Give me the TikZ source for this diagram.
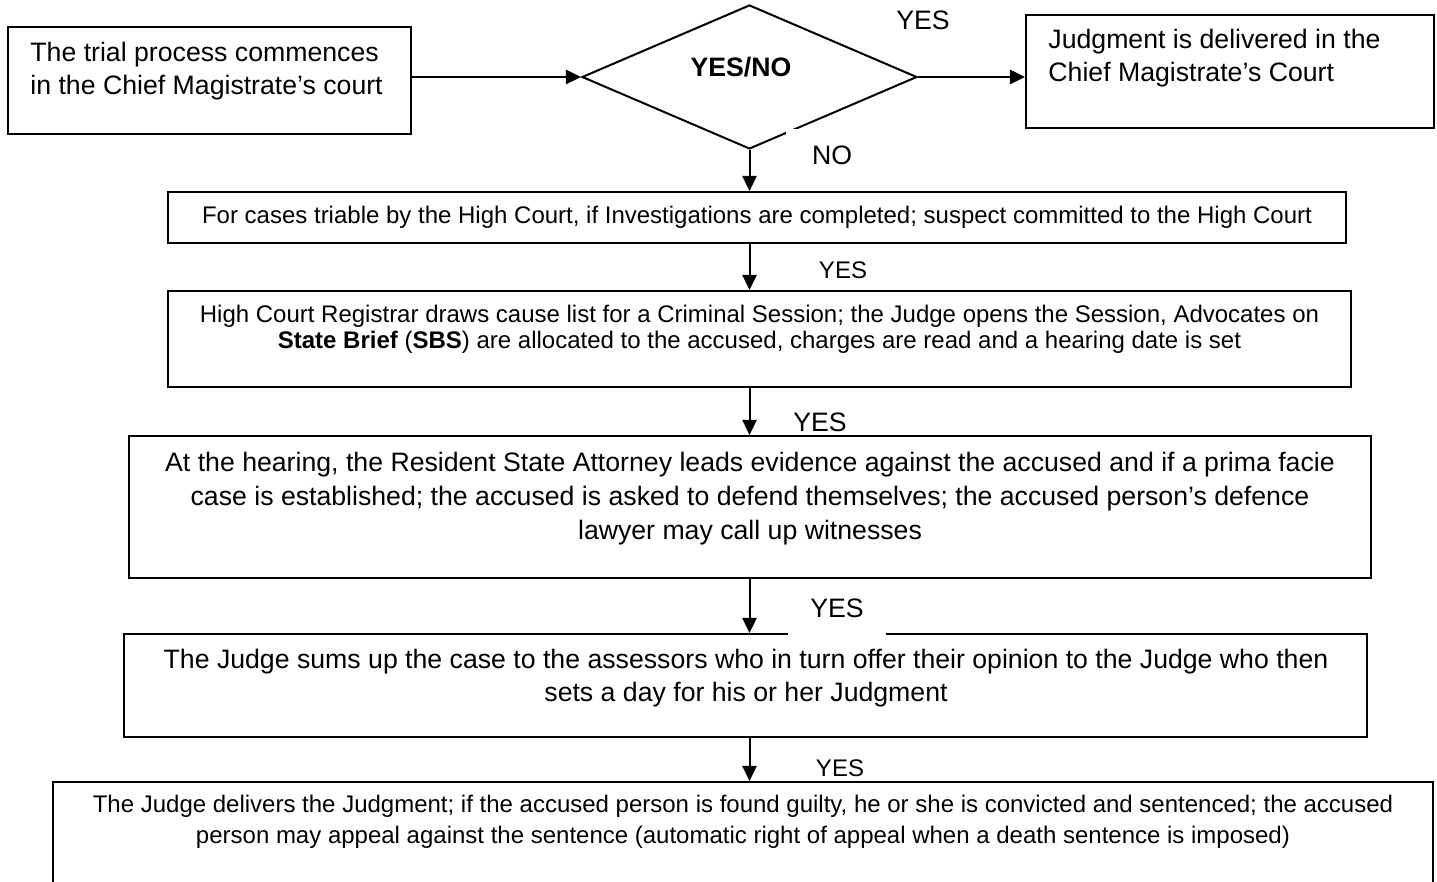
\documentclass[tikz,border=0pt]{standalone}
\usepackage{fontspec}
\setmainfont{Liberation Sans}
\usepackage{tikz}
\usetikzlibrary{positioning, shapes.geometric, arrows.meta}

\newcommand{\bigtxt}{\fontsize{12}{14.85}\selectfont}
\newcommand{\smalltxt}{\fontsize{10.8}{11.7}\selectfont}

\tikzset{
  box/.style={draw, line width=0.9pt, inner sep=0pt},
  arr/.style={-{Triangle[length=6.8pt,width=6.4pt]}, line width=0.9pt},
  txt/.style={inner sep=0pt, align=center},
  lbl/.style={inner sep=0pt}
}

\begin{document}
\begin{tikzpicture}[x=0.45pt, y=-0.45pt]
            \useasboundingbox (0,0) rectangle (1437,882);
            \clip (0,0) rectangle (1437,882);

            % Draw the first row: start box, decision and magistrate judgment
            \node[box, minimum width=181.35pt, minimum height=48.15pt] (start) at (209.5,80.5) {};
            \node[txt, align=left, anchor=west, font=\bigtxt] (start-txt) at (30,71.5)
                {The trial process commences\\in the Chief Magistrate’s court};
            \node[box, diamond, minimum width=150.75pt, minimum height=64.8pt] (dec) at (749.5,77) {};
            \node[lbl, font=\bigtxt\bfseries] (dec-txt) at (741,67) {YES/NO};
            \node[box, minimum width=183.6pt, minimum height=50.85pt] (magjudg) at (1230,71.5) {};
            \node[txt, align=left, anchor=west, font=\bigtxt] (magjudg-txt) at (1048,58)
                {Judgment is delivered in the\\Chief Magistrate’s Court};

            \draw[arr] (start.east |- dec.west) -- (dec.west);
            \draw[arr] (dec.east) -- (dec.east -| magjudg.west);
            \node[lbl, font=\bigtxt] (yes-top) at (923,20) {YES};
            \node[lbl, fill=white, minimum width=41.4pt, minimum height=23.4pt, font=\bigtxt] (no-lbl) at (832,155) {NO};

            % Draw the High Court boxes
            \node[box, minimum width=530.1pt, minimum height=22.95pt] (commit) at (757,217.5) {};
            \node[txt, font=\smalltxt] (commit-txt) at (757,217)
                {For cases triable by the High Court, if Investigations are completed; suspect committed to the High Court};
            \node[box, minimum width=532.35pt, minimum height=43.2pt] (session) at (759.5,339) {};
            \node[txt, font=\smalltxt] (session-txt) at (759.5,329)
                {High Court Registrar draws cause list for a Criminal Session; the Judge opens the Session, Advocates on\\
                 \textbf{State Brief} (\textbf{SBS}) are allocated to the accused, charges are read and a hearing date is set};
            \node[box, minimum width=558.9pt, minimum height=63.9pt] (hearing) at (750,507) {};
            \node[txt, font=\fontsize{12}{15.3}\selectfont] (hearing-txt) at (750,499)
                {At the hearing, the Resident State Attorney leads evidence against the accused and if a prima facie\\
                 case is established; the accused is asked to defend themselves; the accused person’s defence\\
                 lawyer may call up witnesses};
            \node[box, minimum width=559.35pt, minimum height=46.35pt] (sumup) at (745.5,685.5) {};
            \node[txt, font=\bigtxt] (sumup-txt) at (746,678.5)
                {The Judge sums up the case to the assessors who in turn offer their opinion to the Judge who then\\
                 sets a day for his or her Judgment};
            \node[box, minimum width=621pt, minimum height=53.1pt] (verdict) at (743,841) {};
            \node[txt, font=\fontsize{10.8}{14}\selectfont] (verdict-txt) at (743,821.5)
                {The Judge delivers the Judgment; if the accused person is found guilty, he or she is convicted and sentenced; the accused\\
                 person may appeal against the sentence (automatic right of appeal when a death sentence is imposed)};

            % Draw the downward arrows and their labels
            \draw[arr] (dec.south) -- (dec.south |- commit.north);
            \draw[arr] (commit.south -| dec.south) -- (session.north -| dec.south);
            \node[lbl, font=\smalltxt] (yes-1) at (843,270) {YES};
            \draw[arr] (session.south -| dec.south) -- (hearing.north -| dec.south);
            \node[lbl, font=\bigtxt] (yes-2) at (820,422) {YES};
            \draw[arr] (hearing.south -| dec.south) -- (sumup.north -| dec.south);
            \node[lbl, fill=white, minimum width=44.1pt, minimum height=25.2pt, font=\bigtxt] (yes-3) at (837,608) {YES};
            \draw[arr] (sumup.south -| dec.south) -- (verdict.north -| dec.south);
            \node[lbl, font=\smalltxt] (yes-4) at (840,768) {YES};
        \end{tikzpicture}
\end{document}
